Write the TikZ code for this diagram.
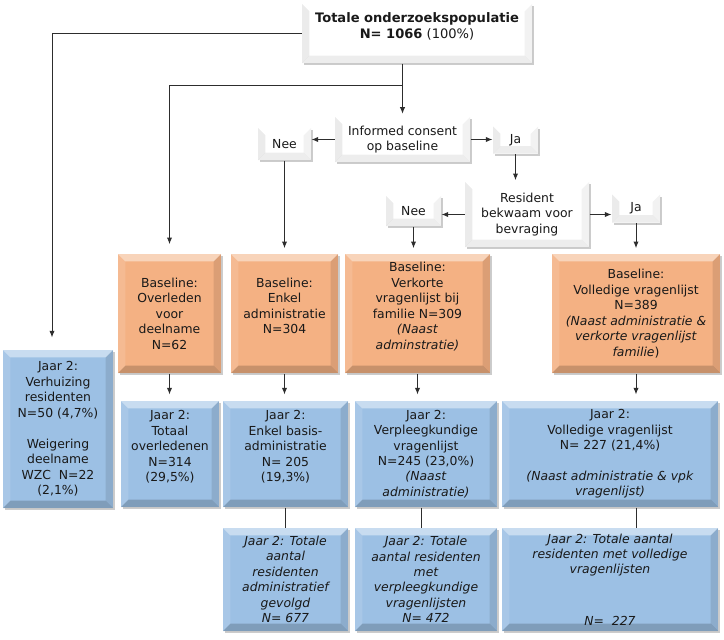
\documentclass[tikz,border=0pt]{standalone}
\usepackage{fontspec}
\setmainfont{DejaVu Sans}
\usetikzlibrary{arrows.meta,shadows,calc}

\definecolor{boxorange}{RGB}{244,177,131}
\definecolor{boxblue}{RGB}{156,192,228}
\definecolor{linegrey}{RGB}{45,45,45}
\definecolor{textdark}{RGB}{25,25,25}

\tikzset{every picture/.style={line width=0.75pt}}
\tikzset{
  bevel/.style n args={3}{path picture={
    \coordinate (bnw) at (path picture bounding box.north west);
    \coordinate (bne) at (path picture bounding box.north east);
    \coordinate (bsw) at (path picture bounding box.south west);
    \coordinate (bse) at (path picture bounding box.south east);
    \path ($(bnw)!5.5pt!(bne)$) coordinate (t1) ($(bne)!5.5pt!(bnw)$) coordinate (t2)
          ($(bnw)!5.5pt!(bsw)$) coordinate (l1) ($(bsw)!5.5pt!(bnw)$) coordinate (l2);
    \fill[white,opacity=.45] (bnw) -- (bne) -- (t2 |- l1) -- (t1 |- l1) -- cycle;
    \fill[#1] (bnw) -- (t1 |- l1) -- (t1 |- l2) -- (bsw) -- cycle;
    \fill[black,opacity=#2] (bne) -- (t2 |- l1) -- (t2 |- l2) -- (bse) -- cycle;
    \fill[black,opacity=#3] (bsw) -- (t1 |- l2) -- (t2 |- l2) -- (bse) -- cycle;
  }},
  box/.style={rectangle, align=center, inner sep=2pt, text=textdark,
    font=\fontsize{9.3}{11.6}\selectfont,
    drop shadow={shadow xshift=1.5pt,shadow yshift=-1.5pt,opacity=.2,fill=black}},
  whitebox/.style={box, fill=white, bevel={black,opacity=.08}{.05}{.07}},
  orangebox/.style={box, fill=boxorange, bevel={white,opacity=.12}{.10}{.18}, minimum height=89.25pt},
  bluebox/.style={box, fill=boxblue, bevel={white,opacity=.12}{.10}{.18}},
  arr/.style={draw=linegrey, -{Latex[length=5pt,width=4pt]}},
  link/.style={draw=linegrey},
}

\begin{document}
\begin{tikzpicture}[x=0.75pt,y=0.75pt,yscale=-1,xscale=1]
\useasboundingbox (0,0) rectangle (724,639);

% top and questions
\node [whitebox, minimum width=172.5pt, minimum height=44.25pt, font=\fontsize{9.8}{12}\selectfont] (top) at (417,33.5) {\textbf{Totale onderzoekspopulatie}\\\textbf{N= 1066} (100\%)\\ \mbox{}};
\node [whitebox, minimum width=101.25pt, minimum height=33.75pt] (consent) at (402.5,139.5) {Informed consent\\op baseline};
\node [whitebox, minimum width=39.75pt, minimum height=24pt] (nee1) at (284.5,144) {Nee};
\node [whitebox, minimum width=33.75pt, minimum height=20.25pt] (ja1) at (515.5,140) {Ja};
\node [whitebox, minimum width=93pt, minimum height=48.75pt] (bekwaam) at (527,214.5) {Resident\\bekwaam voor\\bevraging};
\node [whitebox, minimum width=41.25pt, minimum height=22.5pt] (nee2) at (413.5,211) {Nee};
\node [whitebox, minimum width=36pt, minimum height=21pt] (ja2) at (636,208.5) {Ja};

% left box
\node [bluebox, minimum width=82.5pt, minimum height=118.5pt] (verhuis) at (58,429) {Jaar 2:\\Verhuizing\\residenten\\N=50 (4,7\%)\\[11.6pt]Weigering\\deelname\\WZC~~N=22\\(2,1\%)};

% Baseline boxes
\node [orangebox, minimum width=77.25pt] (base1) at (169.5,313.5) {Baseline:\\Overleden\\voor\\deelname\\N=62};
\node [orangebox, minimum width=80.25pt] (base2) at (284.5,313.5) {Baseline:\\Enkel\\administratie\\N=304\\ \mbox{}};
\node [orangebox, minimum width=108.75pt] (base3) at (417.5,313.5) {Baseline:\\Verkorte\\vragenlijst bij\\familie N=309\\\textit{(Naast}\\\textit{adminstratie)}\\ \mbox{}};
\node [orangebox, minimum width=126pt] (base4) at (636,313.5) {Baseline:\\Volledige vragenlijst\\N=389\\\textit{(Naast administratie \&}\\\textit{verkorte vragenlijst}\\\textit{familie})};

% Jaar 2 boxes
\node [bluebox, minimum width=73.5pt, minimum height=79.5pt] (jaar1) at (170,454) {Jaar 2:\\Totaal\\overledenen\\N=314\\(29,5\%)\\ \mbox{}};
\node [bluebox, minimum width=93.75pt, minimum height=79.5pt] (jaar2) at (285.5,454) {Jaar 2:\\Enkel basis-\\administratie\\N= 205\\(19,3\%)\\ \mbox{}};
\node [bluebox, minimum width=106.5pt, minimum height=79.5pt] (jaar3) at (426,454) {Jaar 2:\\Verpleegkundige\\vragenlijst\\N=245 (23,0\%)\\\textit{(Naast}\\\textit{administratie)}};
\node [bluebox, minimum width=162pt, minimum height=79.5pt] (jaar4) at (610,454) {Jaar 2:\\Volledige vragenlijst\\N= 227 (21,4\%)\\[11.6pt]\textit{(Naast administratie \& vpk}\\\textit{vragenlijst)}};

% totals
\node [bluebox, minimum width=93.75pt, minimum height=77.25pt, font=\fontsize{9.3}{11.6}\selectfont\itshape] (totaal2) at (285.5,579.5) {Jaar 2: Totale\\aantal\\residenten\\administratief\\gevolgd\\N= 677};
\node [bluebox, minimum width=106.5pt, minimum height=77.25pt, font=\fontsize{9.3}{11.6}\selectfont\itshape] (totaal3) at (426,579.5) {Jaar 2: Totale\\aantal residenten\\met\\verpleegkundige\\vragenlijsten\\N= 472};
\node [bluebox, minimum width=162pt, minimum height=77.25pt, font=\fontsize{9.3}{11.6}\selectfont\itshape] (totaal4) at (610,579.5) {Jaar 2: Totale aantal\\residenten met volledige\\vragenlijsten\\[27pt]N=~~227};

% connectors
\coordinate (split) at (402.5,85);
\draw [link] (top.south -| consent.north) -- (split);
\draw [arr, shorten >=2pt] (split) -- (consent.north);
\draw [arr, shorten >=7pt] (split) -| (base1.north);
\draw [arr, shorten >=9pt] (top.west) -| ([xshift=-4.5pt]verhuis.north);
\draw [arr] (consent.west) -- (consent.west -| nee1.east);
\draw [arr] (consent.east) -- (consent.east -| ja1.west);
\draw [arr, shorten >=4pt] (nee1.south) -- (nee1.south |- base2.north);
\draw [arr, shorten >=1pt] (ja1.south) -- (ja1.south |- bekwaam.north);
\draw [arr] (bekwaam.west) -- (bekwaam.west -| nee2.east);
\draw [arr] (bekwaam.east) -- (bekwaam.east -| ja2.west);
\draw [arr, shorten >=4pt] (nee2.south) -- (nee2.south |- base3.north);
\draw [arr, shorten >=4pt] (ja2.south) -- (ja2.south |- base4.north);

\draw [arr, shorten >=4.5pt] (base1.south) -- (base1.south |- jaar1.north);
\draw [arr, shorten >=4.5pt] (base2.south) -- (base2.south |- jaar2.north);
\draw [arr, shorten >=4.5pt] (base3.south) -- (base3.south |- jaar3.north);
\draw [arr, shorten >=4.5pt] (base4.south) -- (base4.south |- jaar4.north);

\draw [link] (jaar2.south) -- (totaal2.north);
\draw [link] ([xshift=-3.75pt]jaar3.south) -- ([xshift=-3.75pt]totaal3.north);
\draw [link] (base4.south |- jaar4.south) -- (base4.south |- totaal4.north);

\end{tikzpicture}
\end{document}
